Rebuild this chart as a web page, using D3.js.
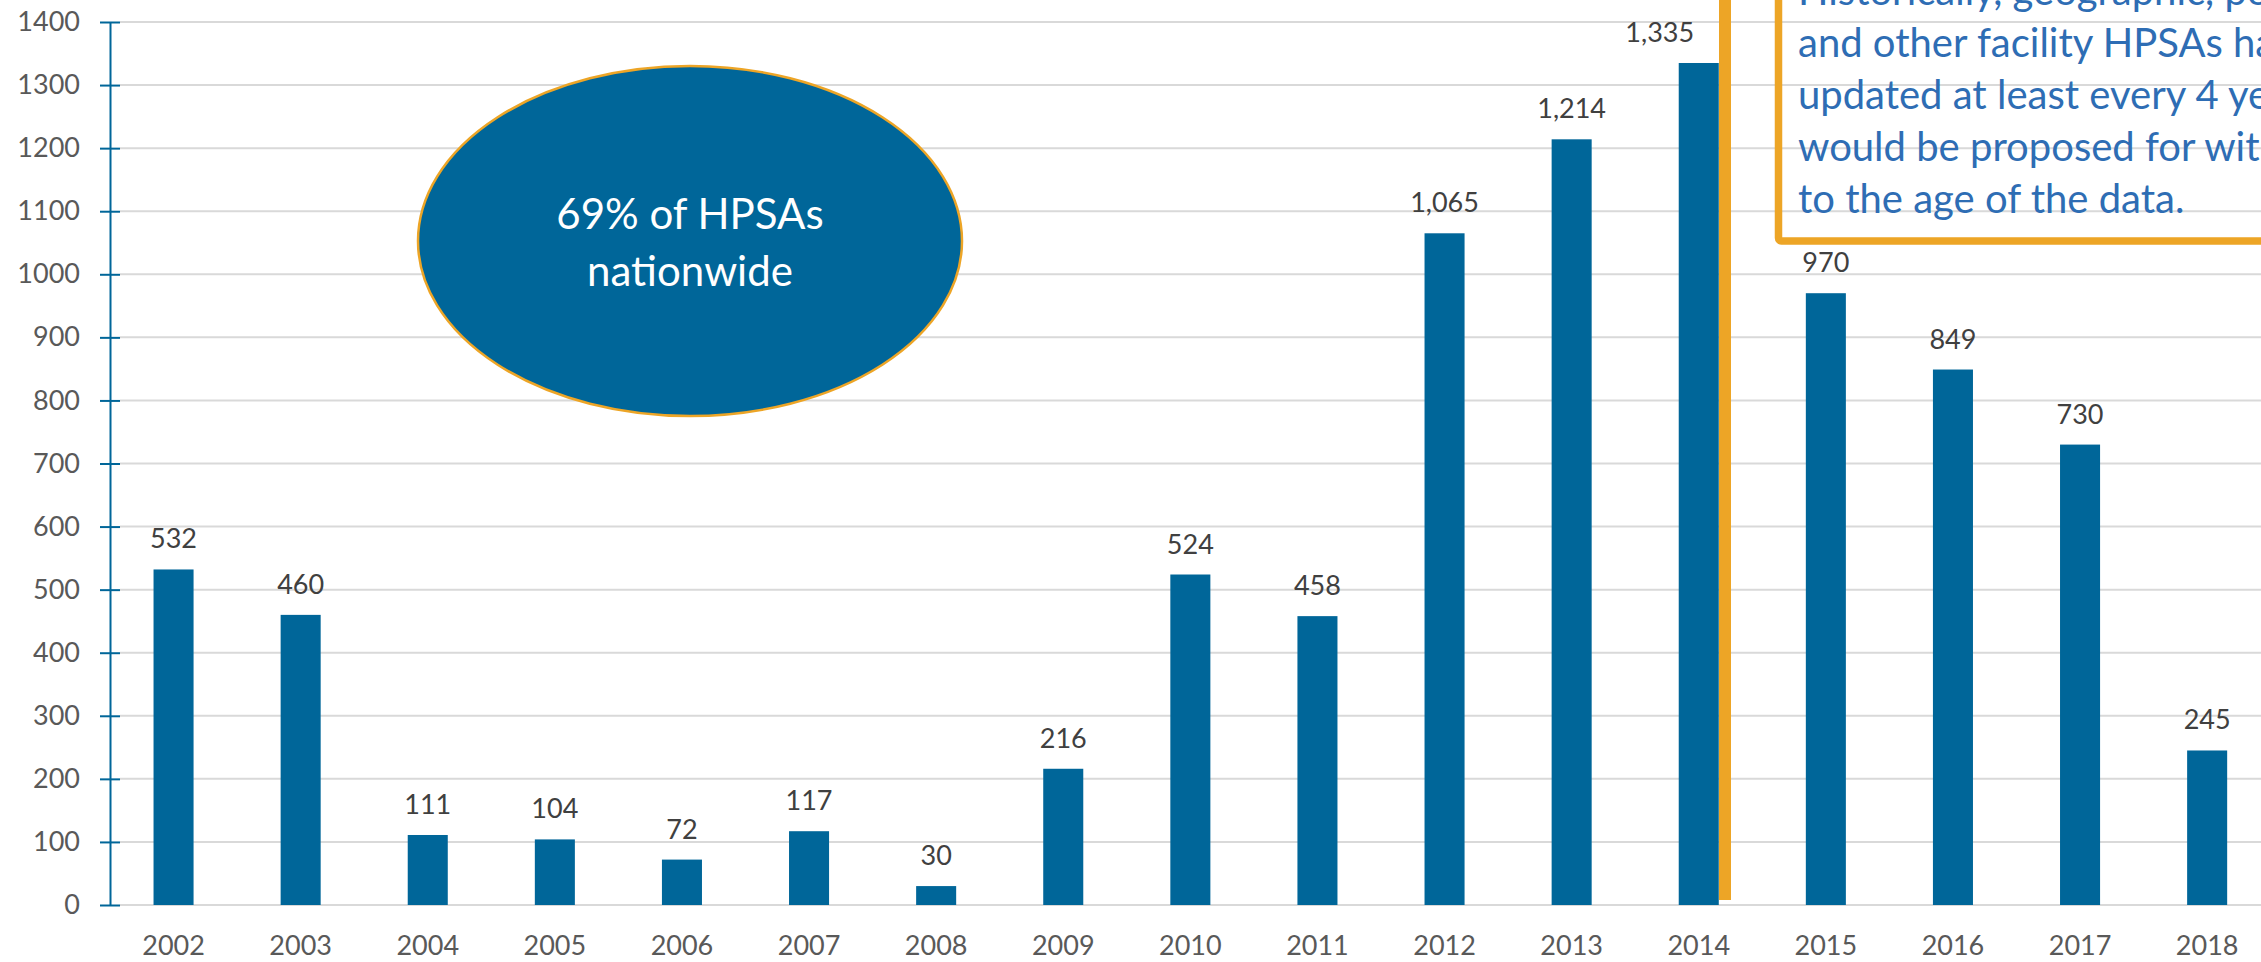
<!DOCTYPE html>
<html lang="en">
<head>
<meta charset="UTF-8">
<title>HPSAs by last update year</title>
<script src="https://cdn.jsdelivr.net/npm/d3@7"></script>
<style>
  html, body { margin: 0; padding: 0; background: #ffffff; }
  svg { display: block; font-family: Lato, "Open Sans", sans-serif; }
</style>
</head>
<body>
<script>
// data
var years = ["2002", "2003", "2004", "2005", "2006", "2007", "2008", "2009", "2010",
             "2011", "2012", "2013", "2014", "2015", "2016", "2017", "2018"];
var counts = [532, 460, 111, 104, 72, 117, 30, 216, 524, 458, 1065, 1214, 1335, 970, 849, 730, 245];
var yTicks = [0, 100, 200, 300, 400, 500, 600, 700, 800, 900, 1000, 1100, 1200, 1300, 1400];

var ovalLines = ["69% of HPSAs", "nationwide"];
var noteLines = [
  "Historically, geographic, population",
  "and other facility HPSAs have been",
  "updated at least every 4 years and",
  "would be proposed for withdrawal due",
  "to the age of the data."
];

var w = 2261, h = 962;
var blue = "#006699";
var orange = "#EDA526";

var svg = d3.select("body").append("svg")
  .attr("width", w)
  .attr("height", h);

var data = years.map(function(y, i) { return { year: y, value: counts[i] }; });

var x = d3.scaleBand()
  .domain(years)
  .range([110, 110 + 17 * 127.1])
  .paddingInner(0.685)
  .paddingOuter(0.3425);

var y = d3.scaleLinear()
  .domain([0, 1400])
  .range([905, 22]);

// gridlines
svg.append("g")
  .selectAll("line")
  .data(yTicks)
  .enter()
  .append("line")
  .attr("x1", 120)
  .attr("x2", w)
  .attr("y1", function(d) { return y(d); })
  .attr("y2", function(d) { return y(d); })
  .attr("stroke", "#d9d9d9")
  .attr("stroke-width", 2);

// y axis
var yAxis = d3.axisLeft(y)
  .tickValues(yTicks)
  .tickSizeInner(10)
  .tickSizeOuter(0)
  .tickPadding(20)
  .tickFormat(d3.format("d"));

var gy = svg.append("g")
  .attr("transform", "translate(110,0)")
  .call(yAxis);
gy.select(".domain").attr("stroke", blue).attr("stroke-width", 2);
gy.selectAll(".tick line")
  .attr("x1", -10)
  .attr("x2", 10)
  .attr("stroke", blue)
  .attr("stroke-width", 2);
gy.selectAll(".tick text")
  .attr("fill", "#595959")
  .style("font-size", "27px")
  .style("font-family", "Lato, sans-serif");

// x axis labels
var xAxis = d3.axisBottom(x).tickSize(0).tickPadding(31);
var gx = svg.append("g")
  .attr("transform", "translate(0,905)")
  .call(xAxis);
gx.select(".domain").remove();
gx.selectAll(".tick text")
  .attr("fill", "#595959")
  .style("font-size", "27px")
  .style("font-family", "Lato, sans-serif");

// bars
svg.selectAll("rect.bar")
  .data(data)
  .enter()
  .append("rect")
  .attr("class", "bar")
  .attr("x", function(d) { return x(d.year); })
  .attr("y", function(d) { return y(d.value); })
  .attr("width", x.bandwidth())
  .attr("height", function(d) { return y(0) - y(d.value); })
  .attr("fill", blue);

// value labels (the 2014 one is nudged left, clear of the orange divider)
var nudge = { "2014": -39 };
svg.selectAll("text.val")
  .data(data)
  .enter()
  .append("text")
  .attr("class", "val")
  .attr("x", function(d) { return x(d.year) + x.bandwidth() / 2 + (nudge[d.year] || 0); })
  .attr("y", function(d) { return y(d.value) - 21; })
  .attr("text-anchor", "middle")
  .attr("fill", "#404040")
  .style("font-size", "27px")
  .text(function(d) { return d3.format(",")(d.value); });

// oval callout
svg.append("ellipse")
  .attr("cx", 690)
  .attr("cy", 241)
  .attr("rx", 272)
  .attr("ry", 175)
  .attr("fill", blue)
  .attr("stroke", orange)
  .attr("stroke-width", 2.5);

svg.append("g")
  .selectAll("text")
  .data(ovalLines)
  .enter()
  .append("text")
  .attr("x", 690)
  .attr("y", function(d, i) { return 229 + i * 57; })
  .attr("text-anchor", "middle")
  .attr("fill", "#ffffff")
  .style("font-size", "42px")
  .text(function(d) { return d; });

// orange divider beside 2014
svg.append("line")
  .attr("x1", 1725)
  .attr("x2", 1725)
  .attr("y1", -10)
  .attr("y2", 900)
  .attr("stroke", orange)
  .attr("stroke-width", 12);

// note box, running off the top and right edges
svg.append("rect")
  .attr("x", 1778.5)
  .attr("y", -20)
  .attr("width", 600)
  .attr("height", 261)
  .attr("rx", 3)
  .attr("fill", "none")
  .attr("stroke", orange)
  .attr("stroke-width", 7.5);

svg.append("g")
  .selectAll("text")
  .data(noteLines)
  .enter()
  .append("text")
  .attr("x", 1798)
  .attr("y", function(d, i) { return 5 + i * 52; })
  .attr("fill", "#2E6DB4")
  .style("font-size", "40px")
  .text(function(d) { return d; });
</script>
</body>
</html>
